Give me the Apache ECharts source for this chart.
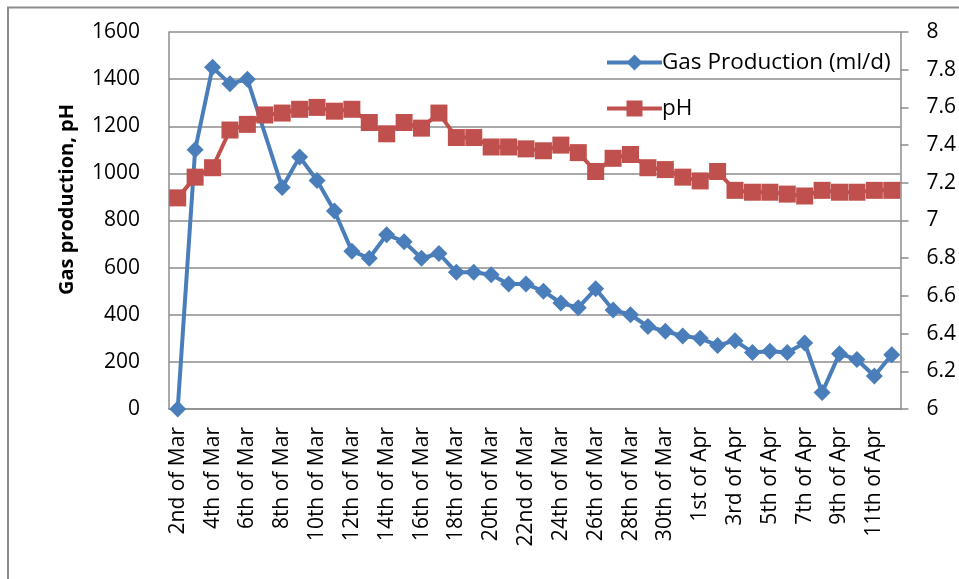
<!DOCTYPE html>
<html>
<head>
<meta charset="utf-8">
<script src="https://cdn.jsdelivr.net/npm/echarts@6.0.0/dist/echarts.min.js"></script>
<style>
    html, body {margin: 0; padding: 0; background: #fff;}
    #main {width: 959px; height: 579px;}
</style>
</head>
<body>
<div id="main"></div>
<script>
// days on the x axis
var days = ['2nd of Mar', '3rd of Mar', '4th of Mar', '5th of Mar', '6th of Mar', '7th of Mar', '8th of Mar',
    '9th of Mar', '10th of Mar', '11th of Mar', '12th of Mar', '13th of Mar', '14th of Mar', '15th of Mar',
    '16th of Mar', '17th of Mar', '18th of Mar', '19th of Mar', '20th of Mar', '21st of Mar', '22nd of Mar',
    '23rd of Mar', '24th of Mar', '25th of Mar', '26th of Mar', '27th of Mar', '28th of Mar', '29th of Mar',
    '30th of Mar', '31st of Mar', '1st of Apr', '2nd of Apr', '3rd of Apr', '4th of Apr', '5th of Apr',
    '6th of Apr', '7th of Apr', '8th of Apr', '9th of Apr', '10th of Apr', '11th of Apr', '12th of Apr'];

// gas production (ml/d), 7th of Mar has no reading
var gasProduction = [0, 1100, 1450, 1380, 1400, null, 940, 1070, 970, 840, 670, 640, 740, 710,
    640, 660, 580, 580, 570, 530, 530, 500, 450, 430, 510, 420, 400, 350,
    330, 310, 300, 270, 290, 240, 245, 240, 280, 70, 235, 210, 140, 230];

var pH = [7.12, 7.23, 7.28, 7.48, 7.51, 7.56, 7.57, 7.59, 7.60, 7.58, 7.59, 7.52, 7.46, 7.52,
    7.49, 7.57, 7.44, 7.44, 7.39, 7.39, 7.38, 7.37, 7.40, 7.36, 7.26, 7.33, 7.35, 7.28,
    7.27, 7.23, 7.21, 7.26, 7.16, 7.15, 7.15, 7.14, 7.13, 7.16, 7.15, 7.15, 7.16, 7.16];

var font = 'Open Sans';
var gridColor = '#8c8c8c';

var myChart = echarts.init(document.getElementById('main'));
var option = {
    animation: false,
    textStyle: {fontFamily: font},
    graphic: [{
        // outer chart border
        type: 'rect',
        shape: {x: 8, y: 7.5, width: 1000, height: 1000},
        style: {fill: 'none', stroke: gridColor, lineWidth: 2},
        silent: true
    }],
    grid: {left: 169, right: 56, top: 32, bottom: 170},
    legend: {
        orient: 'vertical',
        left: 600,
        top: 46,
        itemWidth: 55,
        itemHeight: 20,
        itemGap: 23,
        lineStyle: {width: 4},
        textStyle: {fontFamily: font, fontSize: 22.5, color: '#000', lineHeight: 20, padding: [0, 0, 0, -5]},
        data: ['Gas Production (ml/d)', 'pH']
    },
    xAxis: {
        type: 'category',
        data: days,
        boundaryGap: true,
        axisLine: {lineStyle: {color: gridColor, width: 1.5}},
        axisTick: {show: false},
        axisLabel: {
            interval: 1,
            rotate: 90,
            margin: 18,
            fontSize: 21,
            color: '#000',
            fontFamily: font
        }
    },
    yAxis: [
        {
            type: 'value',
            min: 0,
            max: 1600,
            interval: 200,
            name: 'Gas production, pH',
            nameLocation: 'middle',
            nameGap: 92,
            nameTextStyle: {fontFamily: font, fontSize: 20, fontWeight: 'bold', color: '#000', padding: [0, 0, 0, 42]},
            axisLine: {show: true, lineStyle: {color: gridColor, width: 1.5}},
            axisTick: {show: false},
            splitLine: {lineStyle: {color: gridColor, width: 1.5}},
            axisLabel: {
                margin: 29, fontSize: 21, color: '#000', fontFamily: font,
                formatter: function (v) { return String(v); }
            }
        },
        {
            type: 'value',
            min: 6,
            max: 8,
            interval: 0.2,
            position: 'right',
            axisLine: {show: true, lineStyle: {color: gridColor, width: 1.5}},
            axisTick: {show: true, length: 8, lineStyle: {color: gridColor, width: 1.5}},
            splitLine: {show: false},
            axisLabel: {margin: 26, fontSize: 21, color: '#000', fontFamily: font}
        }
    ],
    series: [
        {
            name: 'Gas Production (ml/d)',
            type: 'line',
            yAxisIndex: 0,
            data: gasProduction,
            connectNulls: true,
            showAllSymbol: true,
            symbol: 'diamond',
            symbolSize: 17,
            lineStyle: {color: '#4a7ebb', width: 4},
            itemStyle: {color: '#4a7ebb'}
        },
        {
            name: 'pH',
            type: 'line',
            yAxisIndex: 1,
            data: pH,
            showAllSymbol: true,
            symbol: 'rect',
            symbolSize: 17,
            lineStyle: {color: '#c0504d', width: 4},
            itemStyle: {color: '#c0504d'}
        }
    ]
};

myChart.setOption(option);
</script>
</body>
</html>
